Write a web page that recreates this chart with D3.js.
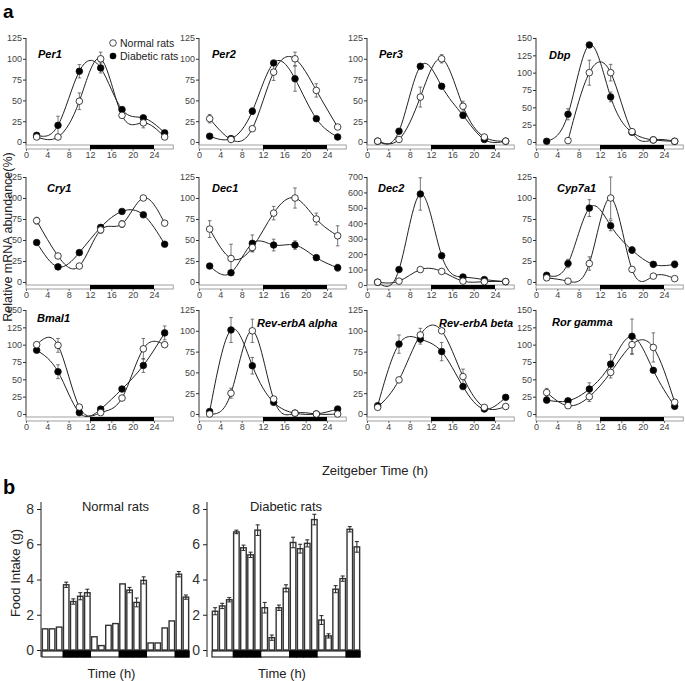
<!DOCTYPE html>
<html>
<head>
<meta charset="utf-8">
<script src="https://cdn.jsdelivr.net/npm/d3@7"></script>
<style>
body { margin: 0; background: #fff; }
svg { display: block; font-family: "Liberation Sans", Arial, sans-serif; }
</style>
</head>
<body>
<svg id="chart" width="685" height="681"></svg>
<script>
// ---- data ----
var zt = [2, 6, 10, 14, 18, 22, 26];
var genes = ["Per1", "Per2", "Per3", "Dbp", "Cry1", "Dec1", "Dec2", "Cyp7a1", "Bmal1", "Rev-erbA alpha", "Rev-erbA beta", "Ror gamma"];
var yMaxes = [125, 125, 125, 150, 125, 125, 700, 125, 150, 125, 125, 150];
var yStep = [25, 25, 25, 25, 25, 25, 100, 25, 25, 25, 25, 25];
var xTicks = [0, 4, 8, 12, 16, 20, 24];

// null = point hidden in the original
var normalMean = [
	[6, 6, 49, 100, 32, 23, 6],
	[28, 3, 16, 84, 100, 62, 18],
	[1, 3, 54, 100, 43, 6, 1],
	[null, 2, 100, 100, 15, 3, 1],
	[73, 31, 19, 62, 69, 100, 70],
	[63, 28, 41, 82, 100, 75, 55],
	[18, 25, 100, 88, 25, 22, 22],
	[5, 1, 22, 100, 15, 7, 4],
	[100, 99, 10, 2, 23, 94, 100],
	[0, 25, 100, 18, 1, 0, 0],
	[8, 41, 95, 100, 45, 8, 9],
	[31, 12, 25, 60, 100, 96, 17]
];
var normalErr = [
	[2, 3, 10, 8, 3, 6, 2],
	[5, 2, 3, 10, 8, 8, 2],
	[1, 1, 12, 5, 6, 1, 1],
	[0, 3, 18, 12, 3, 1, 1],
	[4, 3, 2, 4, 4, 3, 2],
	[10, 17, 5, 8, 12, 7, 12],
	[5, 8, 5, 5, 8, 5, 3],
	[2, 1, 8, 25, 3, 1, 2],
	[4, 10, 2, 1, 3, 15, 2],
	[1, 6, 14, 3, 1, 1, 1],
	[2, 2, 8, 3, 9, 2, 1],
	[6, 3, 7, 8, 14, 21, 3]
];
var diabeticMean = [
	[8, 20, 85, 89, 39, 29, 11],
	[7, 4, 37, 95, 76, 28, 6],
	[1, 13, 91, 67, 32, 3, 1],
	[1, 40, 140, 65, 14, 3, 1],
	[47, 18, 35, 65, 84, 80, 45],
	[19, 11, 46, 44, 44, 29, 17],
	[18, 100, 590, 190, 52, 35, 22],
	[8, 22, 88, 67, 38, 21, 21],
	[92, 61, 2, 7, 36, 70, 117],
	[3, 101, 58, 14, 1, 0, 6],
	[10, 84, 90, 75, 33, 6, 20],
	[20, 19, 36, 72, 112, 63, 11]
];
var diabeticErr = [
	[3, 11, 8, 6, 3, 3, 2],
	[1, 2, 4, 3, 15, 2, 1],
	[1, 2, 3, 3, 3, 1, 1],
	[1, 8, 3, 7, 2, 1, 1],
	[2, 2, 2, 3, 3, 2, 2],
	[2, 3, 10, 7, 5, 3, 4],
	[5, 15, 105, 10, 8, 5, 3],
	[2, 5, 10, 6, 4, 2, 4],
	[3, 10, 2, 2, 4, 10, 10],
	[1, 15, 10, 2, 1, 1, 1],
	[2, 11, 6, 11, 3, 2, 2],
	[2, 2, 9, 14, 25, 3, 2]
];

// food intake, 21 consecutive intervals; phase 0 = light, 1 = dark
var barPhase = [0, 0, 0, 1, 1, 1, 1, 0, 0, 0, 0, 1, 1, 1, 1, 0, 0, 0, 0, 1, 1];
var normalFood = [1.2, 1.2, 1.3, 3.7, 2.75, 3.05, 3.25, 0.75, 0.25, 1.4, 1.5, 3.75, 3.4, 2.7, 3.95, 0.4, 0.4, 1.25, 1.65, 4.3, 3.0];
var normalFoodErr = [0, 0, 0, 0.15, 0.15, 0.2, 0.2, 0, 0, 0, 0, 0, 0.15, 0.25, 0.2, 0, 0, 0, 0, 0.15, 0.12];
var diabeticFood = [2.2, 2.5, 2.85, 6.7, 5.8, 5.4, 6.8, 2.4, 0.7, 2.4, 3.5, 6.1, 5.75, 6.05, 7.4, 1.7, 0.8, 3.45, 4.05, 6.85, 5.85];
var diabeticFoodErr = [0.2, 0.15, 0.12, 0.1, 0.15, 0.15, 0.3, 0.3, 0.15, 0.15, 0.2, 0.3, 0.25, 0.2, 0.3, 0.25, 0.12, 0.2, 0.15, 0.15, 0.3];
var foodTicks = [0, 2, 4, 6, 8];

// ---- layout ----
var svg = d3.select("#chart");
var colX = [26, 199, 367, 536];
var rowZero = [142, 282, 414];
var rowTop = [38, 177, 310];
var labelPos = [
	[12, 58], [13, 58], [12, 58], [13, 59],
	[21, 192], [13, 192], [11, 192], [21, 192],
	[11, 322], [58, 327], [72, 327], [16, 326]
];

svg.append("text").attr("x", 3).attr("y", 18).attr("font-size", 19).attr("font-weight", "bold").text("a");
svg.append("text").attr("x", 3).attr("y", 494).attr("font-size", 20).attr("font-weight", "bold").text("b");

genes.forEach(function (gene, i) {
	var r = Math.floor(i / 4), c = i % 4;
	var x0 = colX[c];
	var y0 = gene === "Dec2" ? rowZero[r] + 3 : rowZero[r];
	var x = d3.scaleLinear().domain([0, 24]).range([x0, x0 + 128]);
	var y = d3.scaleLinear().domain([0, yMaxes[i]]).range([y0, rowTop[r]]);
	var stripY = rowZero[r] + 3;
	var g = svg.append("g");

	// y axis
	var yAxis = d3.axisLeft(y)
		.tickValues(d3.range(0, yMaxes[i] + 1, yStep[i]))
		.tickSize(3).tickPadding(1).tickFormat(d3.format("d"));
	var ya = g.append("g").attr("transform", "translate(" + x0 + ",0)").call(yAxis);
	ya.select(".domain").remove();
	ya.append("line").attr("x1", 0).attr("x2", 0).attr("y1", rowTop[r]).attr("y2", stripY).attr("stroke", "#333");
	ya.selectAll("line").attr("stroke", "#333");
	ya.selectAll("text").attr("font-size", 9).attr("fill", "#444").attr("font-family", "Liberation Sans, Arial, sans-serif");

	// light/dark strip
	g.append("rect").attr("x", x(0)).attr("y", stripY).attr("width", x(27.6) - x(0)).attr("height", 4)
		.attr("fill", "#fff").attr("stroke", "#888").attr("stroke-width", 0.8);
	g.append("rect").attr("x", x(12)).attr("y", stripY).attr("width", x(24) - x(12)).attr("height", 4)
		.attr("fill", "#000");

	var xAxis = d3.axisBottom(x).tickValues(xTicks).tickSize(2).tickPadding(1);
	var xa = g.append("g").attr("transform", "translate(0," + (stripY + 4) + ")").call(xAxis);
	xa.select(".domain").remove();
	xa.selectAll("line").attr("stroke", "#666");
	xa.selectAll("text").attr("font-size", 9).attr("fill", "#444").attr("font-family", "Liberation Sans, Arial, sans-serif");

	var line = d3.line()
		.x(function (d) { return x(d[0]); }).y(function (d) { return y(d[1]); })
		.curve(d3.curveNatural);

	var series = [[normalMean[i], normalErr[i]], [diabeticMean[i], diabeticErr[i]]];
	series.forEach(function (s) {
		var pts = zt.map(function (t, k) { return [t, s[0][k]]; }).filter(function (d) { return d[1] !== null; });
		g.append("path").datum(pts)
			.attr("d", line).attr("fill", "none").attr("stroke", "#222").attr("stroke-width", 1);
	});

	series.forEach(function (s) {
		zt.forEach(function (t, k) {
			var m = s[0][k], e = s[1][k];
			if (m === null || e < yMaxes[i] * 0.03) return;
			var eg = g.append("g").attr("stroke", "#555").attr("stroke-width", 0.8);
			eg.append("line").attr("x1", x(t)).attr("x2", x(t)).attr("y1", y(m - e)).attr("y2", y(m + e));
			eg.append("line").attr("x1", x(t) - 1.8).attr("x2", x(t) + 1.8).attr("y1", y(m + e)).attr("y2", y(m + e));
			eg.append("line").attr("x1", x(t) - 1.8).attr("x2", x(t) + 1.8).attr("y1", y(m - e)).attr("y2", y(m - e));
		});
	});

	// markers: diabetic filled, normal open on top
	[[diabeticMean[i], "#000"], [normalMean[i], "#fff"]].forEach(function (s) {
		var pts = zt.map(function (t, k) { return [t, s[0][k]]; }).filter(function (d) { return d[1] !== null; });
		g.selectAll(null).data(pts).enter().append("circle")
			.attr("cx", function (d) { return x(d[0]); })
			.attr("cy", function (d) { return y(d[1]); })
			.attr("r", 3.3).attr("fill", s[1]).attr("stroke", "#111").attr("stroke-width", 0.8);
	});

	g.append("text").attr("x", x0 + labelPos[i][0]).attr("y", labelPos[i][1])
		.attr("font-size", 11).attr("font-weight", "bold").attr("font-style", "italic").text(gene);
});

// legend
svg.append("circle").attr("cx", 113).attr("cy", 43).attr("r", 3.3).attr("fill", "#fff").attr("stroke", "#222").attr("stroke-width", 0.8);
svg.append("circle").attr("cx", 113).attr("cy", 56).attr("r", 3.3).attr("fill", "#000");
svg.append("text").attr("x", 120).attr("y", 47).attr("font-size", 10.5).attr("fill", "#222").text("Normal rats");
svg.append("text").attr("x", 120).attr("y", 60).attr("font-size", 10.5).attr("fill", "#222").text("Diabetic rats");

svg.append("text").attr("transform", "translate(12,237) rotate(-90)").attr("text-anchor", "middle")
	.attr("font-size", 12.5).attr("fill", "#222").text("Relative mRNA abundance(%)");
svg.append("text").attr("x", 375).attr("y", 475).attr("text-anchor", "middle")
	.attr("font-size", 13).attr("fill", "#222").text("Zeitgeber Time (h)");

// ---- panel b ----
var foodPanels = [
	{axisX: 41, x0: 42, x1: 189, title: "Normal rats", vals: normalFood, errs: normalFoodErr},
	{axisX: 207, x0: 212, x1: 360, title: "Diabetic rats", vals: diabeticFood, errs: diabeticFoodErr}
];
var fy = d3.scaleLinear().domain([0, 8]).range([650, 509]);

foodPanels.forEach(function (p) {
	var g = svg.append("g");
	var bx = d3.scaleBand().domain(d3.range(p.vals.length)).range([p.x0, p.x1]).paddingInner(0.22).paddingOuter(0.05);
	var step = (p.x1 - p.x0) / p.vals.length;

	var ya = g.append("g").attr("transform", "translate(" + p.axisX + ",0)")
		.call(d3.axisLeft(fy).tickValues(foodTicks).tickSize(4).tickPadding(3));
	ya.select(".domain").remove();
	ya.append("line").attr("y1", 502).attr("y2", 657).attr("stroke", "#222");
	ya.selectAll("line").attr("stroke", "#222");
	ya.selectAll("text").attr("font-size", 14).attr("fill", "#333").attr("font-family", "Liberation Sans, Arial, sans-serif");

	g.selectAll("rect.bar").data(p.vals).enter().append("rect")
		.attr("x", function (d, k) { return bx(k); })
		.attr("y", function (d) { return fy(d); })
		.attr("width", bx.bandwidth())
		.attr("height", function (d) { return fy(0) - fy(d); })
		.attr("fill", "#fff").attr("stroke", "#333").attr("stroke-width", 1.4);

	p.vals.forEach(function (v, k) {
		var e = p.errs[k];
		if (!e) return;
		var cx = bx(k) + bx.bandwidth() / 2;
		var eg = g.append("g").attr("stroke", "#222").attr("stroke-width", 1);
		eg.append("line").attr("x1", cx).attr("x2", cx).attr("y1", fy(v - e)).attr("y2", fy(v + e));
		eg.append("line").attr("x1", cx - 2).attr("x2", cx + 2).attr("y1", fy(v + e)).attr("y2", fy(v + e));
		eg.append("line").attr("x1", cx - 2).attr("x2", cx + 2).attr("y1", fy(v - e)).attr("y2", fy(v - e));
	});

	// light/dark strip
	barPhase.forEach(function (ph, k) {
		g.append("rect").attr("x", p.x0 + k * step).attr("y", 651).attr("width", step).attr("height", 6)
			.attr("fill", ph ? "#000" : "#fff").attr("stroke", ph ? "#000" : "none");
	});
	g.append("rect").attr("x", p.x0).attr("y", 651).attr("width", p.x1 - p.x0).attr("height", 6)
		.attr("fill", "none").attr("stroke", "#000").attr("stroke-width", 1);

	g.append("text").attr("x", (p.x0 + p.x1) / 2).attr("y", 511).attr("text-anchor", "middle")
		.attr("font-size", 13).attr("fill", "#222").text(p.title);
	g.append("text").attr("x", (p.x0 + p.x1) / 2 - 4).attr("y", 678).attr("text-anchor", "middle")
		.attr("font-size", 13).attr("fill", "#222").text("Time (h)");
});

svg.append("text").attr("transform", "translate(20,573) rotate(-90)").attr("text-anchor", "middle")
	.attr("font-size", 13).attr("fill", "#222").text("Food Intake (g)");
</script>
</body>
</html>
